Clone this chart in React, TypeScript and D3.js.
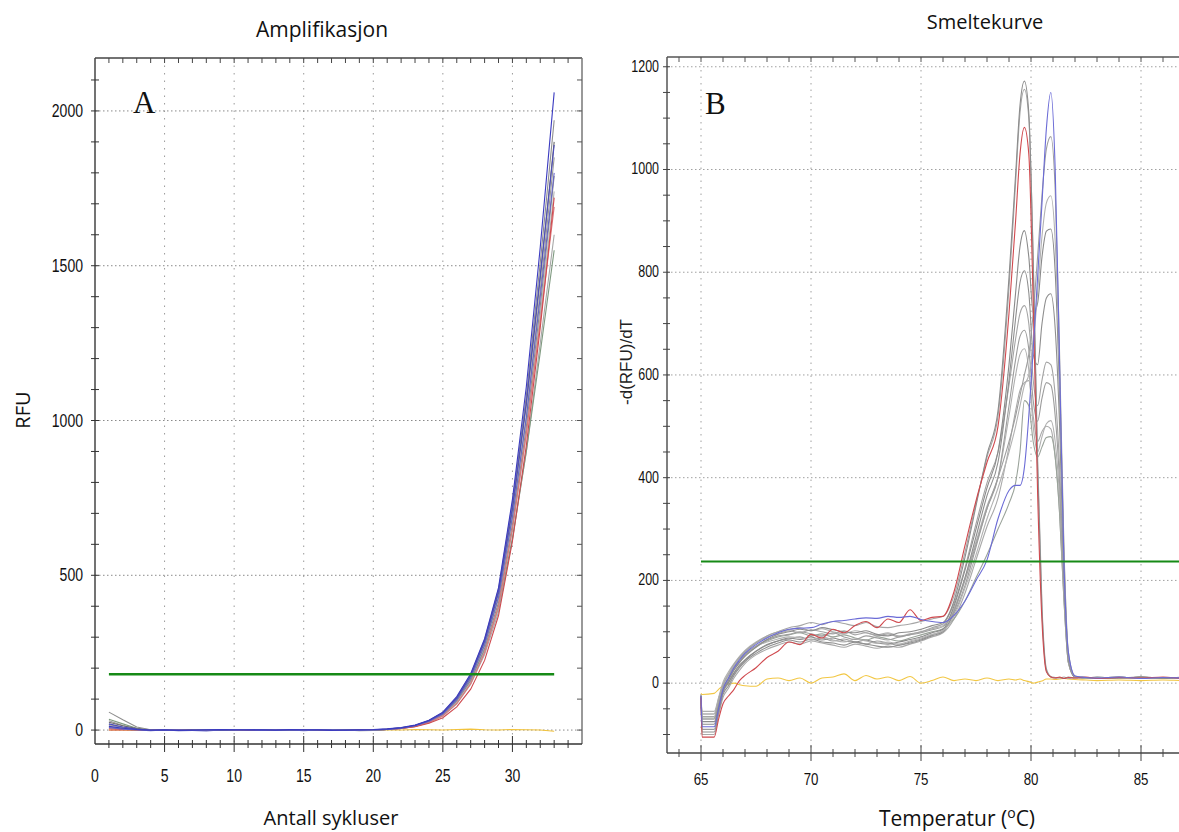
import React from 'react';
import * as d3 from 'd3';

// ---------- Panel A: amplification (RFU per cycle) ----------
const cycles = [1,2,3,4,5,6,7,8,9,10,11,12,13,14,15,16,17,18,19,20,21,22,23,24,25,26,27,28,29,30,31,32,33];
const ampBlue1 = [12,6,2,0,1,-1,0,1,2,1,0,1,0,2,1,0,-1,0,1,2,4,8,16,32,58,108,182,295,460,745,1110,1560,2060];
const ampBlue2 = [20,10,3,-1,0,-2,-1,0,1,0,2,1,-1,0,1,2,0,-1,0,1,3,7,15,30,55,103,176,288,448,720,1060,1470,1890];
const ampBlue3 = [8,3,0,-2,0,1,-1,-3,0,1,0,-1,1,0,-2,0,1,0,-1,0,2,6,14,28,52,98,168,276,430,690,1010,1400,1800];
const ampRed1 = [0,1,0,-1,0,1,0,2,1,0,-1,0,1,0,0,1,-1,0,1,0,2,5,11,22,40,75,132,225,370,610,920,1300,1720];
const ampRed2 = [5,3,1,0,-1,0,1,0,0,2,1,0,-1,0,1,0,0,1,-1,0,2,5,12,25,46,86,150,250,400,650,960,1320,1690];
const ampGray1 = [58,33,10,1,0,-1,0,2,1,0,1,2,0,-1,0,1,2,0,-2,-1,2,6,15,31,57,106,180,292,455,735,1080,1510,1970];
const ampGray2 = [25,14,5,0,-1,0,1,0,-1,1,2,1,0,1,-1,0,1,2,0,-1,3,7,15,30,55,102,174,284,442,710,1050,1460,1900];
const ampGray3 = [30,15,4,0,1,0,-1,0,2,1,0,-1,0,1,2,0,-1,0,1,0,2,6,14,28,52,97,166,272,425,685,1010,1420,1850];
const ampGray4 = [18,9,2,-1,0,1,0,1,0,-1,0,1,2,0,0,-1,0,1,0,1,2,5,13,27,50,94,160,264,412,665,980,1370,1790];
const ampGray5 = [15,8,2,0,-1,0,1,0,1,0,-1,0,1,2,1,0,-1,0,0,1,2,5,12,25,47,89,154,254,398,645,955,1340,1740];
const ampGray6 = [10,5,1,0,0,1,-1,0,1,0,0,1,0,-1,1,0,1,-1,0,0,2,5,12,24,45,85,148,244,382,615,900,1250,1600];
const ampGreen = [35,20,6,1,0,-1,0,1,0,2,1,0,1,-1,0,2,1,0,-1,0,2,6,14,28,51,95,160,258,395,620,900,1220,1550];
const ampYellow = [0,0,-1,0,1,0,-1,0,1,0,0,1,0,-1,0,1,0,0,-1,0,1,0,2,1,0,2,3,1,0,2,1,0,-4];
const ampThreshold = 180;
const ampXTicks = [0,5,10,15,20,25,30];
const ampYTicks = [0,500,1000,1500,2000];

// ---------- Panel B: melt curve (-d(RFU)/dT per temperature) ----------
const temps = [65.0,65.05,65.6,65.8,66.0,66.25,66.5,66.75,67.0,67.5,68.0,68.5,69.0,69.5,70.0,70.5,71.0,71.5,72.0,72.5,73.0,73.5,74.0,74.5,75.0,75.5,76.0,76.5,77.0,77.5,78.0,78.5,79.0,79.3,79.5,79.7,79.9,80.1,80.3,80.5,80.7,80.9,81.1,81.3,81.5,81.7,82.0,82.5,83.0,84.0,85.0,86.0,87.0,88.0];
const meltYellow = [-20,-22,-20,-12,-5,-2,0,-3,-5,-6,8,10,5,10,0,10,12,18,5,15,8,12,5,13,0,5,12,5,8,5,10,5,8,6,8,5,3,0,2,4,8,8,7,8,9,8,7,6,5,6,5,6,5,5];
const meltG3 = [-24,-70,-70,-40,-10,8,28,42,55,72,84,92,95,100,96,92,98,90,85,92,88,84,90,94,98,104,110,140,200,270,340,400,470,520,560,600,640,720,830,950,1040,1064,960,640,260,60,14,10,12,9,11,10,12,10];
const meltG4 = [-23,-60,-60,-30,-2,18,34,48,58,72,80,86,90,88,85,90,84,80,86,82,78,80,76,82,88,95,102,130,185,250,320,380,450,500,540,580,600,660,760,870,935,949,860,600,250,55,13,11,10,12,9,11,10,11];
const meltG5 = [-26,-80,-80,-48,-15,2,20,35,45,62,75,82,88,85,90,84,88,82,80,84,78,76,80,85,90,98,105,150,220,300,380,450,620,760,850,881,830,720,740,830,880,884,800,560,230,50,12,10,11,9,12,10,11,10];
const meltG6 = [-25,-95,-95,-58,-22,-5,15,30,42,58,70,78,84,80,86,80,78,74,80,76,72,70,74,78,84,92,100,140,205,285,365,430,590,710,780,803,760,640,620,700,750,758,690,500,210,48,12,11,10,12,9,10,11,10];
const meltG7 = [-24,-60,-60,-32,-3,18,36,50,62,78,90,96,102,98,104,100,96,102,94,98,92,96,90,95,100,108,115,155,225,310,390,450,580,670,720,735,700,590,540,590,625,620,560,420,190,45,12,10,11,9,12,10,11,10];
const meltG8 = [-25,-90,-90,-52,-18,0,18,32,45,62,74,82,86,90,84,88,82,86,80,76,82,78,74,80,86,94,102,135,190,265,340,400,540,630,675,687,650,550,510,555,585,580,520,390,180,42,12,11,10,12,9,11,10,11];
const meltG9 = [-24,-55,-55,-28,2,22,38,52,64,80,92,100,104,108,102,106,100,96,102,98,94,98,92,96,100,106,112,145,205,275,345,400,520,600,640,651,610,500,450,480,505,511,470,360,170,40,12,10,11,10,12,9,11,10];
const meltG10 = [-25,-100,-100,-62,-28,-10,10,25,38,55,66,74,80,76,82,78,74,70,76,72,68,72,70,76,82,90,98,125,175,240,305,360,460,530,570,585,589,520,470,490,500,495,440,330,160,40,12,11,10,12,9,11,10,11];
const meltG11 = [-24,-68,-68,-38,-8,10,28,42,54,70,82,90,94,98,92,96,90,94,88,84,90,86,82,88,94,100,106,125,160,205,250,300,350,390,450,550,540,470,440,460,478,480,440,330,160,40,12,10,11,9,12,10,11,10];
const meltG1 = [-25,-75,-75,-45,-15,5,25,40,52,70,85,95,100,105,102,108,104,100,98,102,95,92,98,100,105,112,118,160,245,345,445,530,790,990,1125,1172,1110,820,420,140,25,12,10,11,9,12,10,11,9,10,12,9,11,10];
const meltG2 = [-22,-65,-65,-35,-5,15,32,48,60,78,92,100,108,112,118,114,120,116,112,118,110,108,112,115,120,125,130,170,255,350,440,520,770,975,1110,1156,1100,830,440,150,28,13,11,10,12,9,11,10,12,9,10,11,9,10];
const meltRed = [-28,-105,-105,-70,-40,-25,-12,5,15,30,50,62,80,75,95,88,105,98,112,120,108,125,118,143,122,128,130,178,268,355,430,500,720,900,1030,1082,1030,740,370,120,22,12,10,12,9,11,10,12,9,11,10,12,9,10];
const meltBlue = [-25,-85,-85,-50,-12,10,30,45,58,75,88,98,105,107,108,115,120,122,125,127,126,130,128,130,124,120,118,132,160,200,240,320,375,385,385,420,520,650,790,935,1080,1150,1000,620,230,60,14,11,10,12,9,11,10,11];
const meltThreshold = 237;
const meltXTicks = [65,70,75,80,85];
const meltYTicks = [0,200,400,600,800,1000,1200];

const ampSeries = [
  { v: ampYellow, c: '#f2c33c' },
  { v: ampGray6, c: '#a8a8a8' },
  { v: ampGreen, c: '#7f9a80' },
  { v: ampGray5, c: '#b4b4b4' },
  { v: ampGray4, c: '#8c8c8c' },
  { v: ampGray3, c: '#9a9a9a' },
  { v: ampRed2, c: '#d9777a' },
  { v: ampRed1, c: '#cf4a4f' },
  { v: ampGray2, c: '#6a6a6a' },
  { v: ampGray1, c: '#8e8e8e' },
  { v: ampBlue3, c: '#6767c4' },
  { v: ampBlue2, c: '#4d4dbb' },
  { v: ampBlue1, c: '#3b3bc0' },
];

const meltSeries = [
  { v: meltYellow, c: '#f2c744' },
  { v: meltG10, c: '#a9a9a9' },
  { v: meltG11, c: '#9aa39a' },
  { v: meltG9, c: '#b0b0b0' },
  { v: meltG8, c: '#9c9c9c' },
  { v: meltG7, c: '#a4a4a4' },
  { v: meltG6, c: '#8f8f8f' },
  { v: meltG5, c: '#8a8a8a' },
  { v: meltG4, c: '#b2b2b2' },
  { v: meltG3, c: '#9e9e9e' },
  { v: meltG2, c: '#a6a6a6' },
  { v: meltG1, c: '#8c8c8c' },
  { v: meltRed, c: '#d0494e' },
  { v: meltBlue, c: '#6b6bd6' },
];

const tickFont = '"Liberation Sans", Arial, sans-serif';
const titleFont = '"Open Sans", "Noto Sans", sans-serif';

function NarrowText(props: { x: number; y: number; anchor: string; size: number; children: React.ReactNode }) {
  return (
    <text transform={`translate(${props.x},${props.y}) scale(0.78,1)`} textAnchor={props.anchor}
      fontFamily={tickFont} fontSize={props.size} fill="#111">{props.children}</text>
  );
}

export default function App() {
  const xA = d3.scaleLinear().domain([0, 35]).range([95, 582]);
  const yA = d3.scaleLinear().domain([-45, 2171]).range([744, 58]);
  const xB = d3.scaleLinear().domain([65, 85]).range([701, 1141]);
  const yB = d3.scaleLinear().domain([-136, 1219]).range([753, 57]);

  const lineA = d3.line<number>().x((_, i) => xA(cycles[i])).y(d => yA(d));
  const lineB = d3.line<number>().x((_, i) => xB(temps[i])).y(d => yB(d)).curve(d3.curveMonotoneX);

  const aLeft = xA(0), aRight = 582, aTop = 58, aBottom = 744;
  const bLeft = 667, bRight = 1179, bTop = 57, bBottom = 753;

  const aMinorX = d3.range(1, 35);
  const aMinorY = d3.range(0, 2200, 100);
  const bMinorX = d3.range(64, 88);
  const bMinorY = d3.range(-100, 1250, 50);

  return (
    <svg width={1179} height={832} style={{ position: 'absolute', left: 0, top: 0, background: '#fff' }}>
      <defs>
        <clipPath id="clipA"><rect x={aLeft} y={aTop} width={aRight - aLeft} height={aBottom - aTop} /></clipPath>
        <clipPath id="clipB"><rect x={bLeft} y={bTop} width={bRight - bLeft} height={bBottom - bTop} /></clipPath>
      </defs>

      {/* ================= Panel A ================= */}
      <text x={322} y={37} textAnchor="middle" fontFamily={titleFont} fontSize={21} fill="#111">Amplifikasjon</text>
      {ampXTicks.filter(t => t > 0).map(t => (
        <line key={'agx' + t} x1={xA(t)} x2={xA(t)} y1={aTop} y2={aBottom} stroke="#9a9a9a" strokeWidth={1} strokeDasharray="1.5,6" />
      ))}
      {ampYTicks.map(t => (
        <line key={'agy' + t} x1={aLeft} x2={aRight} y1={yA(t)} y2={yA(t)} stroke="#8a8a8a" strokeWidth={1} strokeDasharray="1.5,2.5" />
      ))}
      <line x1={aLeft} x2={aRight} y1={aTop} y2={aTop} stroke="#444" strokeWidth={1.5} />
      <line x1={aLeft} x2={aLeft} y1={aTop} y2={aBottom} stroke="#444" strokeWidth={1.5} />
      <line x1={aRight} x2={aRight} y1={aTop} y2={aBottom} stroke="#777" strokeWidth={1.5} />
      <line x1={aLeft} x2={aRight} y1={aBottom} y2={aBottom} stroke="#333" strokeWidth={1.5} />
      {aMinorX.map(t => (
        <g key={'atx' + t}>
          <line x1={xA(t)} x2={xA(t)} y1={aTop} y2={aTop + 5} stroke="#444" />
          <line x1={xA(t)} x2={xA(t)} y1={aBottom - (t % 5 === 0 ? 8 : 4)} y2={aBottom + (t % 5 === 0 ? 8 : 4)} stroke="#333" />
        </g>
      ))}
      {aMinorY.map(t => (
        <g key={'aty' + t}>
          <line x1={aLeft - 4} x2={aLeft + 4} y1={yA(t)} y2={yA(t)} stroke="#333" />
          <line x1={aRight - 5} x2={aRight} y1={yA(t)} y2={yA(t)} stroke="#555" />
        </g>
      ))}
      {ampXTicks.map(t => (
        <NarrowText key={'alx' + t} x={xA(t)} y={782} anchor="middle" size={18}>{t}</NarrowText>
      ))}
      {ampYTicks.map(t => (
        <NarrowText key={'aly' + t} x={83} y={yA(t) + 6} anchor="end" size={18}>{t}</NarrowText>
      ))}
      <g clipPath="url(#clipA)">
        {ampSeries.map((s, i) => (
          <path key={'as' + i} d={lineA(s.v) || ''} fill="none" stroke={s.c} strokeWidth={1.1} />
        ))}
      </g>
      <line x1={xA(1)} x2={xA(33)} y1={yA(ampThreshold)} y2={yA(ampThreshold)} stroke="#168a16" strokeWidth={2.5} />
      <text x={133} y={113} fontFamily='"Liberation Serif", "DejaVu Serif", serif' fontSize={31} fill="#111">A</text>
      <text transform="translate(30,410) rotate(-90)" textAnchor="middle" fontFamily={titleFont} fontSize={20} fill="#111">RFU</text>
      <text x={331} y={825} textAnchor="middle" fontFamily={titleFont} fontSize={20} fill="#111">Antall sykluser</text>

      {/* ================= Panel B ================= */}
      <text x={985} y={29} textAnchor="middle" fontFamily={titleFont} fontSize={20} fill="#111">Smeltekurve</text>
      {meltXTicks.map(t => (
        <line key={'bgx' + t} x1={xB(t)} x2={xB(t)} y1={bTop} y2={bBottom} stroke="#a0a0a0" strokeWidth={1} strokeDasharray="1.5,5" />
      ))}
      {meltYTicks.map(t => (
        <line key={'bgy' + t} x1={bLeft} x2={bRight} y1={yB(t)} y2={yB(t)} stroke="#a0a0a0" strokeWidth={1} strokeDasharray="1.5,2.5" />
      ))}
      <line x1={bLeft} x2={bRight} y1={bTop} y2={bTop} stroke="#555" strokeWidth={1.5} />
      <line x1={bLeft} x2={bLeft} y1={bTop} y2={bBottom} stroke="#555" strokeWidth={1.5} />
      <line x1={bLeft} x2={bRight} y1={bBottom} y2={bBottom} stroke="#444" strokeWidth={1.5} />
      {bMinorX.map(t => (
        <g key={'btx' + t}>
          <line x1={xB(t)} x2={xB(t)} y1={bTop} y2={bTop + 5} stroke="#555" />
          <line x1={xB(t)} x2={xB(t)} y1={bBottom - (t % 5 === 0 ? 8 : 4)} y2={bBottom + (t % 5 === 0 ? 8 : 4)} stroke="#444" />
        </g>
      ))}
      {bMinorY.map(t => (
        <line key={'bty' + t} x1={bLeft - 4} x2={bLeft + 3} y1={yB(t)} y2={yB(t)} stroke="#444" />
      ))}
      {meltXTicks.map(t => (
        <NarrowText key={'blx' + t} x={xB(t)} y={785} anchor="middle" size={17}>{t}</NarrowText>
      ))}
      {meltYTicks.map(t => (
        <NarrowText key={'bly' + t} x={659} y={yB(t) + 5} anchor="end" size={16}>{t}</NarrowText>
      ))}
      <g clipPath="url(#clipB)">
        {meltSeries.map((s, i) => (
          <path key={'bs' + i} d={lineB(s.v) || ''} fill="none" stroke={s.c} strokeWidth={1.1} />
        ))}
      </g>
      <line x1={xB(65)} x2={bRight} y1={yB(meltThreshold)} y2={yB(meltThreshold)} stroke="#168a16" strokeWidth={2} />
      <text x={705} y={114} fontFamily='"Liberation Serif", "DejaVu Serif", serif' fontSize={31} fill="#111">B</text>
      <text transform="translate(632,362) rotate(-90)" textAnchor="middle" fontFamily={tickFont} fontSize={17} fill="#222"
        stroke="#fff" strokeWidth={3} paintOrder="stroke">-d(RFU)/dT</text>
      <text x={957} y={826} textAnchor="middle" fontFamily={titleFont} fontSize={21} fill="#111">
        Temperatur (<tspan fontSize={14} dy={-8}>o</tspan><tspan dy={8}>C)</tspan>
      </text>
    </svg>
  );
}
